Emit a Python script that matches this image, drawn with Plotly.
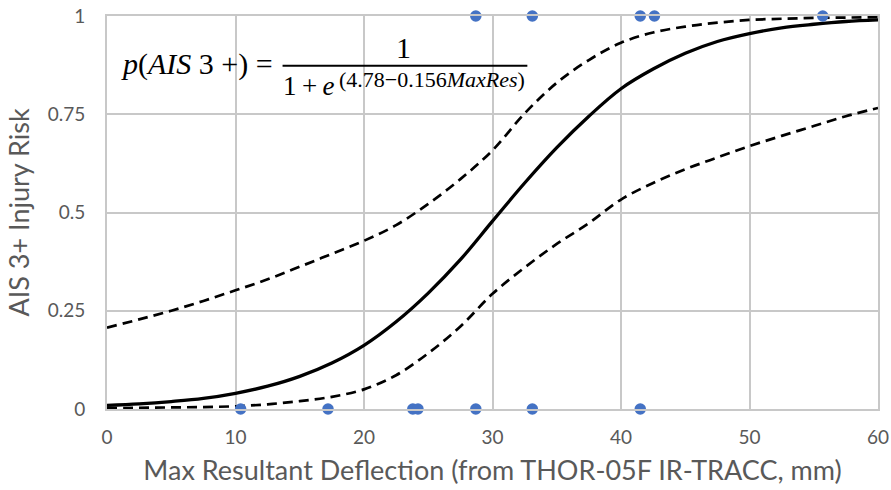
import plotly.graph_objects as go

# ---- data ----
x_grid = [0, 2.5, 5, 7.5, 10, 12.5, 15, 17.5, 20, 22.5, 25, 27.5, 30,
          32.5, 35, 37.5, 40, 42.5, 45, 47.5, 50, 52.5, 55, 57.5, 60]
risk = [0.009, 0.013, 0.019, 0.027, 0.040, 0.058, 0.083, 0.117, 0.162, 0.222,
        0.295, 0.38, 0.478, 0.575, 0.665, 0.745, 0.815, 0.865, 0.905, 0.935,
        0.955, 0.97, 0.979, 0.986, 0.99]
upper_ci = [0.207, 0.228, 0.25, 0.275, 0.302, 0.33, 0.362, 0.395, 0.428, 0.468,
            0.522, 0.585, 0.658, 0.752, 0.83, 0.888, 0.932, 0.958, 0.973, 0.983,
            0.99, 0.993, 0.995, 0.996, 0.997]
lower_ci = [0.002, 0.003, 0.004, 0.005, 0.007, 0.012, 0.02, 0.031, 0.05, 0.086,
            0.142, 0.21, 0.293, 0.36, 0.42, 0.473, 0.533, 0.575, 0.61, 0.64,
            0.669, 0.695, 0.72, 0.745, 0.766]
injured_x = [28.7, 33.1, 41.5, 42.6, 55.7]
injured_y = [1, 1, 1, 1, 1]
uninjured_x = [10.4, 17.2, 23.8, 24.2, 28.7, 33.1, 41.5]
uninjured_y = [0, 0, 0, 0, 0, 0, 0]
x_ticks = [0, 10, 20, 30, 40, 50, 60]
y_ticks = [0, 0.25, 0.5, 0.75, 1]
y_tick_text = ["0", "0.25", "0.5", "0.75", "1"]

fig = go.Figure()
dash = "10px,6px"
fig.add_trace(go.Scatter(x=x_grid, y=upper_ci, mode="lines", line=dict(color="black", width=2.7, dash=dash, shape="spline"), showlegend=False))
fig.add_trace(go.Scatter(x=x_grid, y=lower_ci, mode="lines", line=dict(color="black", width=2.7, dash=dash, shape="spline"), showlegend=False))
fig.add_trace(go.Scatter(x=x_grid, y=risk, mode="lines", line=dict(color="black", width=3.3, shape="spline"), showlegend=False))
fig.add_trace(go.Scatter(x=injured_x + uninjured_x, y=injured_y + uninjured_y, mode="markers",
                         marker=dict(color="#4472C4", size=11.5), cliponaxis=False, showlegend=False))

grid = "#c8c8c8"
tick_font = dict(family="Lato, Open Sans, sans-serif", size=19, color="#595959")
fig.update_xaxes(range=[0, 60], tickvals=x_ticks, showgrid=True, gridcolor=grid, gridwidth=1.8,
                 zeroline=False, showline=True, linecolor=grid, linewidth=1.8, mirror=True,
                 ticks="", tickfont=tick_font, ticklabelstandoff=10, automargin=False,
                 title=dict(text="Max Resultant Deflection (from THOR-05F IR-TRACC, mm)",
                            font=dict(family="Lato, Open Sans, sans-serif", size=27, color="#595959"), standoff=14))
fig.update_yaxes(range=[0, 1], tickvals=y_ticks, ticktext=y_tick_text, showgrid=True, gridcolor=grid, gridwidth=1.8,
                 zeroline=False, showline=True, linecolor=grid, linewidth=1.8, mirror=True,
                 ticks="", tickfont=tick_font, ticklabelstandoff=16, automargin=False,
                 title=dict(text="AIS 3+ Injury Risk",
                            font=dict(family="Lato, Open Sans, sans-serif", size=27, color="#595959"), standoff=10))

eq_font = dict(family="Liberation Serif, DejaVu Serif, serif", size=30, color="black")
den_font = dict(family="Liberation Serif, DejaVu Serif, serif", size=27, color="black")
sup_font = dict(family="Liberation Serif, DejaVu Serif, serif", size=22, color="black")
fig.add_annotation(xref="paper", yref="paper", x=0.117, y=0.879, showarrow=False,
                   text="<i>p</i>(<i>AIS</i> 3 +) =", font=eq_font, xanchor="center", yanchor="middle")
fig.add_annotation(xref="paper", yref="paper", x=0.385, y=0.921, showarrow=False,
                   text="1", font=eq_font, xanchor="center", yanchor="middle")
fig.add_annotation(xref="paper", yref="paper", x=0.2262, y=0.822, showarrow=False,
                   text="1\u2009+\u2009<i>e</i>", font=den_font, xanchor="left", yanchor="middle")
fig.add_annotation(xref="paper", yref="paper", x=0.5452, y=0.838, showarrow=False,
                   text="(4.78−0.156<i>MaxRes</i>)", font=sup_font, xanchor="right", yanchor="middle")
fig.add_shape(type="line", xref="paper", yref="paper", x0=0.2277, x1=0.5452, y0=0.8735, y1=0.8735,
              line=dict(color="black", width=2))

fig.update_layout(width=891, height=490, margin=dict(l=107, r=13, t=16, b=81),
                  plot_bgcolor="white", paper_bgcolor="white")
fig.write_html("out.html")
